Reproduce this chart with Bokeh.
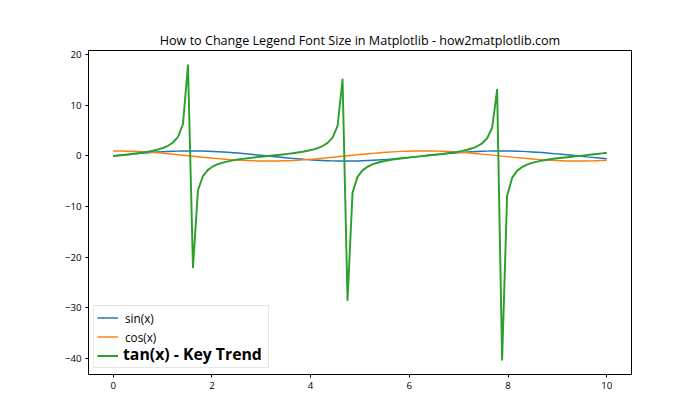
from bokeh.plotting import figure
from bokeh.models import Range1d, Legend, LegendItem, FixedTicker
from bokeh.embed import file_html
from bokeh.resources import INLINE

x_vals = [0.0, 0.101, 0.202, 0.303, 0.404, 0.5051, 0.6061, 0.7071, 0.8081, 0.9091,
          1.0101, 1.1111, 1.2121, 1.3131, 1.4141, 1.5152, 1.6162, 1.7172, 1.8182, 1.9192,
          2.0202, 2.1212, 2.2222, 2.3232, 2.4242, 2.5253, 2.6263, 2.7273, 2.8283, 2.9293,
          3.0303, 3.1313, 3.2323, 3.3333, 3.4343, 3.5354, 3.6364, 3.7374, 3.8384, 3.9394,
          4.0404, 4.1414, 4.2424, 4.3434, 4.4444, 4.5455, 4.6465, 4.7475, 4.8485, 4.9495,
          5.0505, 5.1515, 5.2525, 5.3535, 5.4545, 5.5556, 5.6566, 5.7576, 5.8586, 5.9596,
          6.0606, 6.1616, 6.2626, 6.3636, 6.4646, 6.5657, 6.6667, 6.7677, 6.8687, 6.9697,
          7.0707, 7.1717, 7.2727, 7.3737, 7.4747, 7.5758, 7.6768, 7.7778, 7.8788, 7.9798,
          8.0808, 8.1818, 8.2828, 8.3838, 8.4848, 8.5859, 8.6869, 8.7879, 8.8889, 8.9899,
          9.0909, 9.1919, 9.2929, 9.3939, 9.4949, 9.596, 9.697, 9.798, 9.899, 10.0]

sin_vals = [0.000, 0.101, 0.201, 0.298, 0.393, 0.484, 0.570, 0.650, 0.723, 0.789,
            0.847, 0.896, 0.936, 0.967, 0.988, 0.998, 0.999, 0.989, 0.970, 0.940,
            0.901, 0.852, 0.795, 0.730, 0.657, 0.578, 0.493, 0.403, 0.308, 0.211,
            0.111, 0.010, -0.091, -0.191, -0.289, -0.384, -0.475, -0.561, -0.642, -0.716,
            -0.783, -0.841, -0.892, -0.933, -0.964, -0.986, -0.998, -0.999, -0.991, -0.972,
            -0.943, -0.905, -0.858, -0.801, -0.737, -0.665, -0.586, -0.502, -0.412, -0.318,
            -0.221, -0.121, -0.021, 0.080, 0.180, 0.279, 0.374, 0.466, 0.553, 0.634,
            0.709, 0.776, 0.836, 0.887, 0.929, 0.962, 0.984, 0.997, 1.000, 0.992,
            0.974, 0.947, 0.909, 0.863, 0.808, 0.744, 0.673, 0.595, 0.511, 0.421,
            0.328, 0.231, 0.131, 0.031, -0.070, -0.170, -0.269, -0.365, -0.457, -0.544]

cos_vals = [1.000, 0.995, 0.980, 0.954, 0.919, 0.875, 0.822, 0.760, 0.691, 0.614,
            0.532, 0.444, 0.351, 0.255, 0.156, 0.056, -0.045, -0.146, -0.245, -0.341,
            -0.434, -0.523, -0.606, -0.683, -0.754, -0.816, -0.870, -0.915, -0.951, -0.978,
            -0.994, -1.000, -0.996, -0.982, -0.957, -0.923, -0.880, -0.828, -0.767, -0.698,
            -0.623, -0.540, -0.453, -0.361, -0.265, -0.166, -0.066, 0.035, 0.136, 0.235,
            0.332, 0.425, 0.514, 0.598, 0.676, 0.747, 0.810, 0.865, 0.911, 0.948,
            0.975, 0.993, 1.000, 0.997, 0.984, 0.961, 0.927, 0.885, 0.833, 0.773,
            0.706, 0.631, 0.549, 0.462, 0.370, 0.275, 0.176, 0.076, -0.025, -0.125,
            -0.225, -0.322, -0.416, -0.505, -0.590, -0.668, -0.740, -0.804, -0.860, -0.907,
            -0.945, -0.973, -0.991, -1.000, -0.998, -0.985, -0.963, -0.931, -0.890, -0.839]

tan_vals = [0.0, 0.1014, 0.2048, 0.3127, 0.4276, 0.5529, 0.6931, 0.8545, 1.0464, 1.2840,
            1.5926, 2.0200, 2.6675, 3.7948, 6.3312, 17.952, -22.028, -6.783, -3.9595, -2.7532,
            -2.0733, -1.6295, -1.3115, -1.0682, -0.8724, -0.7080, -0.5664, -0.4398, -0.3240, -0.2156,
            -0.1118, -0.0103, 0.0910, 0.1941, 0.3014, 0.4155, 0.5395, 0.6780, 0.8368, 1.0251,
            1.2571, 1.5568, 1.9688, 2.5862, 3.6424, 5.9347, 15.147, -28.490, -7.3024, -4.1382,
            -2.8440, -2.1289, -1.6678, -1.3399, -1.0905, -0.8907, -0.7240, -0.5800, -0.4521, -0.3354,
            -0.2263, -0.1222, -0.0206, 0.0806, 0.1835, 0.2902, 0.4035, 0.5263, 0.6631, 0.8195,
            1.0043, 1.2309, 1.5222, 1.9197, 2.5093, 3.5010, 5.5837, 13.097, -40.305, -7.9062,
            -4.3327, -2.9403, -2.1871, -1.7073, -1.3690, -1.1132, -0.9093, -0.7397, -0.5939, -0.4645,
            -0.3469, -0.2372, -0.1326, -0.0308, 0.0703, 0.1729, 0.2791, 0.3916, 0.5133, 0.6484]

series_labels = ["sin(x)", "cos(x)", "tan(x) - Key Trend"]
series_colors = ["#1f77b4", "#ff7f0e", "#2ca02c"]
x_ticks = [0, 2, 4, 6, 8, 10]
y_ticks = [-40, -30, -20, -10, 0, 10, 20]
title_text = "How to Change Legend Font Size in Matplotlib - how2matplotlib.com"

FONT = "Open Sans"

# matplotlib-like auto limits with 5% margins
all_y = sin_vals + cos_vals + tan_vals
ymin, ymax = min(all_y), max(all_y)
ypad = 0.05 * (ymax - ymin)
xmin, xmax = min(x_vals), max(x_vals)
xpad = 0.05 * (xmax - xmin)

p = figure(width=700, height=420, output_backend="svg", toolbar_location=None,
           x_range=Range1d(xmin - xpad, xmax + xpad),
           y_range=Range1d(ymin - ypad, ymax + ypad),
           min_border_left=88, min_border_right=69, min_border_top=50, min_border_bottom=46)

p.title.text = title_text
p.title.align = "center"
p.title.text_font = FONT
p.title.text_font_size = "12.6px"
p.title.text_font_style = "normal"
p.title.text_color = "#000000"
p.title.standoff = 4

p.xgrid.visible = False
p.ygrid.visible = False
p.outline_line_color = "#000000"
p.outline_line_width = 1
p.background_fill_color = "white"
p.border_fill_color = "white"

p.xaxis.ticker = FixedTicker(ticks=x_ticks)
p.yaxis.ticker = FixedTicker(ticks=y_ticks)
p.yaxis.major_label_overrides = {t: (str(t).replace("-", "\u2212")) for t in y_ticks}
for ax in (p.xaxis, p.yaxis):
    ax.axis_line_color = None
    ax.major_tick_line_color = "#000000"
    ax.major_tick_out = 3
    ax.major_tick_in = 0
    ax.minor_tick_line_color = None
    ax.major_label_text_font = FONT
    ax.major_label_text_font_size = "9.7px"
    ax.major_label_text_color = "#000000"
p.xaxis.major_label_standoff = 4
p.yaxis.major_label_standoff = 4

r_sin = p.line(x_vals, sin_vals, line_color=series_colors[0], line_width=1.45, line_join="round")
r_cos = p.line(x_vals, cos_vals, line_color=series_colors[1], line_width=1.45, line_join="round")
r_tan = p.line(x_vals, tan_vals, line_color=series_colors[2], line_width=1.95, line_join="round")

legend_a = Legend(items=[LegendItem(label=series_labels[0], renderers=[r_sin]),
                         LegendItem(label=series_labels[1], renderers=[r_cos]),
                         LegendItem(label=" ", renderers=[r_tan])],
                  location=(5, 6), orientation="vertical",
                  padding=3, spacing=2, margin=0,
                  glyph_width=21, glyph_height=17, label_height=17, label_width=140,
                  label_standoff=7,
                  label_text_font=FONT, label_text_font_size="11.7px", label_text_color="#000000",
                  border_line_color="#cccccc", border_line_width=1,
                  background_fill_color="white", background_fill_alpha=0.8)
legend_b = Legend(items=[LegendItem(label=series_labels[2], renderers=[r_tan])],
                  location=(35, 9), orientation="vertical",
                  padding=0, spacing=0, margin=0,
                  glyph_width=0, glyph_height=17, label_height=17,
                  label_standoff=0,
                  label_text_font=FONT, label_text_font_size="15.8px", label_text_font_style="bold",
                  label_text_color="#000000",
                  border_line_alpha=0, background_fill_alpha=0)
p.add_layout(legend_a, "center")
p.add_layout(legend_b, "center")

open("out.html", "w").write(file_html(p, INLINE))
